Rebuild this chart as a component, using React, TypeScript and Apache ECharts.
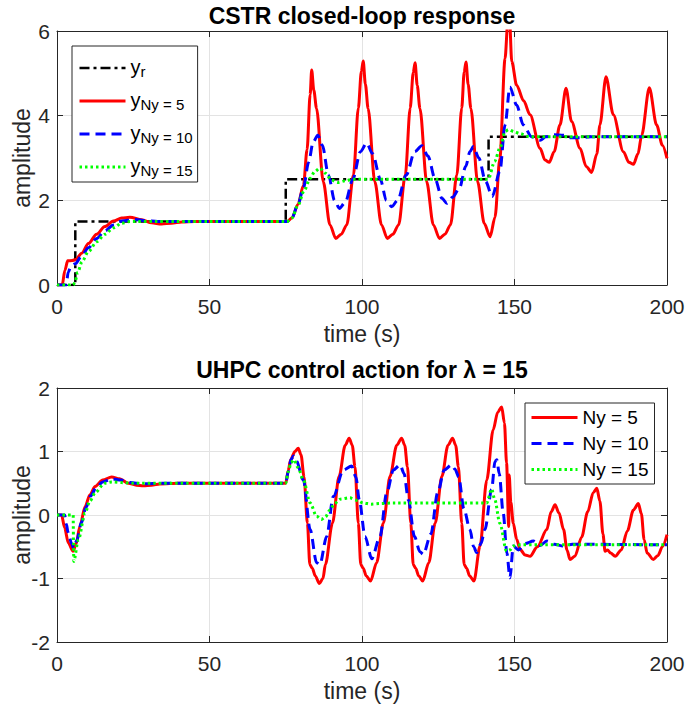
import { useEffect, useRef } from "react";
import * as echarts from "echarts";

const FONT = "'Liberation Sans', Arial, Helvetica, sans-serif";
const AXC = "#262626";

// axis ticks
const xTicks = [0, 50, 100, 150, 200];
const topYTicks = [0, 2, 4, 6];
const botYTicks = [-2, -1, 0, 1, 2];

// ---------- top subplot: CSTR closed-loop response ----------
const yRef: [number, number][] = [
  [0, 0], [6, 0], [6, 1.5], [75, 1.5], [75, 2.5], [141.5, 2.5], [141.5, 3.5], [200, 3.5],
];

const yNy5: [number, number][] = [
  [0, 0], [1.7, 0], [2.6, 0.35], [3.5, 0.57], [5, 0.58], [6.1, 0.6], [8.1, 0.75], [10.3, 0.98],
  [13, 1.2], [15.7, 1.38], [18.5, 1.51], [21.2, 1.58], [23.9, 1.6], [27.8, 1.54], [31, 1.47],
  [34.3, 1.44], [37.5, 1.46], [40.9, 1.49], [45, 1.5], [75.5, 1.5],
  [77, 1.58], [79, 1.9], [80.8, 2.35], [82, 3.2], [83, 4.5], [83.5, 5.08], [84.2, 4.6], [85.1, 4.17],
  [87.3, 2.44], [89.5, 1.42], [91.4, 1.1], [93.2, 1.2], [95, 1.42], [97.2, 2.6], [98.8, 4.18],
  [99.8, 5.05], [100.4, 5.29], [101.1, 4.75], [102, 4.17], [104.2, 2.44], [106.4, 1.42], [108.3, 1.1],
  [110.1, 1.2], [112, 1.42], [114.2, 2.6], [115.8, 4.18], [116.8, 5.02], [117.4, 5.25], [118.1, 4.72],
  [119, 4.17], [121.2, 2.44], [123.4, 1.42], [125.4, 1.1], [127.2, 1.2], [129, 1.42], [131.1, 2.6],
  [132.7, 4.18], [133.5, 5.03], [134.1, 5.27], [134.8, 4.74], [135.7, 4.17], [137.9, 2.44],
  [140.1, 1.45], [142, 1.14], [143.6, 1.6], [145.2, 2.99], [146.9, 5.35], [147.8, 6.2], [148.3, 6.4],
  [149.1, 5.28], [150.7, 4.72], [153, 4.35], [155.1, 4.02], [158.4, 3.23], [160, 2.95], [161.4, 2.9],
  [163, 3.15], [164.9, 3.78], [166.9, 4.65], [168.7, 3.86], [171.5, 3.23], [173.5, 2.8], [175.3, 2.66],
  [177, 3.1], [178, 3.78], [180, 4.92], [182.4, 4.02], [185.7, 3.15], [187.5, 2.9], [189, 2.85],
  [190.5, 3.1], [191.7, 3.54], [194.2, 4.66], [196.6, 3.78], [198.5, 3.3], [200, 2.99],
];

const yNy10: [number, number][] = [
  [0, 0], [3, 0], [3.7, 0.31], [4.6, 0.45], [6, 0.5], [8, 0.68], [10.3, 0.88], [13, 1.1], [15.7, 1.28],
  [18.5, 1.42], [21.2, 1.51], [25.6, 1.55], [29, 1.52], [33, 1.5], [75.5, 1.5],
  [77, 1.58], [79, 1.9], [80.8, 2.3], [82.5, 2.9], [84, 3.38], [85.5, 3.54], [87, 3.3], [89, 2.6],
  [91, 2.0], [92.6, 1.81], [94.5, 1.95], [97, 2.5], [99.5, 3.15], [101.5, 3.35], [103.5, 3.1],
  [106, 2.5], [108, 2.0], [109.7, 1.85], [111.7, 2.0], [114.5, 2.6], [117.3, 3.15], [119.6, 3.29],
  [121.6, 3.05], [124, 2.5], [126.2, 2.05], [127.8, 1.93], [129.8, 2.08], [132, 2.3], [134, 2.8],
  [135.4, 3.15], [136.5, 3.27], [138.3, 3.0], [140.5, 2.45], [142.7, 2.09], [145.2, 2.68],
  [146.9, 3.78], [148.5, 4.68], [150.7, 4.25], [152.9, 3.78], [155.6, 3.5], [158.4, 3.42],
  [160.3, 3.5], [163, 3.55], [166, 3.54], [168.5, 3.48], [171.5, 3.48], [175, 3.5], [200, 3.5],
];

const yNy15: [number, number][] = [
  [0, 0], [5.3, 0], [5.8, 0.05], [6.8, 0.3], [8.2, 0.55], [10.3, 0.79], [13, 1.02], [15.7, 1.2],
  [18.5, 1.35], [21.2, 1.46], [24, 1.5], [75.5, 1.5],
  [77, 1.58], [79, 1.88], [81, 2.22], [83, 2.52], [84.5, 2.68], [86.2, 2.76], [88, 2.64], [90, 2.48],
  [92, 2.42], [94.5, 2.46], [97, 2.5], [141.4, 2.5], [143.5, 2.92], [145.2, 3.23], [146.9, 3.62],
  [148, 3.67], [150, 3.62], [151.6, 3.58], [155.1, 3.5], [200, 3.5],
];

// ---------- bottom subplot: UHPC control action ----------
const uNy5: [number, number][] = [
  [0, 0], [1.5, 0], [2.5, -0.2], [3.7, -0.44], [5.3, -0.57], [6.3, -0.45], [7.5, -0.18], [9.2, 0.13],
  [10.8, 0.32], [12.5, 0.45], [15, 0.55], [17.9, 0.6], [20.5, 0.57], [23.4, 0.5], [26, 0.47],
  [28.3, 0.46], [31, 0.47], [33.7, 0.49], [40, 0.5], [75, 0.5],
  [75.8, 0.7], [76.6, 0.87], [78, 1.0], [79.1, 1.05], [80, 0.95], [81, 0.6], [82.1, -0.13],
  [82.9, -0.78], [83.7, -0.84], [84.7, -0.96], [86, -1.08], [87.2, -1.0], [88, -0.78], [90.3, -0.13],
  [92.5, 0.61], [94.5, 1.1], [95.8, 1.21], [96.8, 1.1], [97.7, 0.76], [98.8, -0.13], [99.6, -0.78],
  [100.4, -0.84], [101.4, -0.96], [102.8, -1.04], [104.8, -0.75], [107, -0.13], [109.2, 0.61],
  [111.4, 1.1], [113, 1.21], [114, 1.1], [114.9, 0.76], [116, -0.13], [116.8, -0.78], [117.6, -0.84],
  [118.6, -0.96], [119.9, -1.04], [121.9, -0.75], [124, -0.13], [126.2, 0.61], [128.2, 1.1],
  [129.7, 1.21], [130.7, 1.1], [131.6, 0.76], [132.7, -0.13], [133.5, -0.78], [134.3, -0.84],
  [135.3, -0.96], [136.7, -1.04], [138.7, -0.49], [140.9, 0.55], [143, 1.34], [144.5, 1.62],
  [145.8, 1.7], [146.7, 1.45], [147.4, 0.82], [148.1, -0.18], [148.25, 0.63], [148.8, 0.2],
  [149.6, -0.13], [150.7, -0.38], [151.8, -0.54], [153.5, -0.63], [155.1, -0.65], [157.5, -0.5],
  [160.6, -0.23], [162, 0.05], [163.3, 0.16], [164.6, 0.03], [166.1, -0.23], [167.2, -0.55],
  [168.2, -0.7], [169.8, -0.65], [172, -0.35], [174, 0.05], [175.8, 0.35], [177, 0.42], [178, 0.22],
  [179, -0.3], [179.7, -0.57], [180.5, -0.55], [181.5, -0.6], [183, -0.65], [185, -0.55], [187, -0.25],
  [189, 0.08], [190.6, 0.18], [191.6, 0.02], [192.5, -0.39], [193.5, -0.6], [195.5, -0.7],
  [197, -0.64], [198.5, -0.5], [200, -0.31],
];

const uNy10: [number, number][] = [
  [0, 0], [2.5, 0], [3.1, -0.15], [3.6, -0.27], [4.8, -0.45], [5.4, -0.52], [6.5, -0.4], [8, -0.12],
  [9.5, 0.12], [11, 0.3], [13, 0.44], [15, 0.52], [18, 0.57], [21, 0.55], [24, 0.51], [28, 0.49],
  [35, 0.5], [75, 0.5],
  [75.8, 0.68], [76.8, 0.88], [77.6, 0.93], [78.5, 0.85], [80.8, 0.55], [83, -0.23], [85.1, -0.75],
  [86.2, -0.78], [88.4, -0.34], [90.6, 0.29], [93.9, 0.71], [96.6, 0.77], [98, 0.6], [99.1, 0.24],
  [101, -0.34], [103.2, -0.69], [105.9, -0.34], [108.1, 0.35], [110.3, 0.71], [112.5, 0.79],
  [113.8, 0.65], [115.2, 0.24], [117.2, -0.34], [119, -0.58], [120.1, -0.62], [122.6, -0.3],
  [124.8, 0.35], [127, 0.71], [129.4, 0.79], [130.5, 0.72], [131.7, 0.6], [133.4, 0.1],
  [135.4, -0.23], [136.6, -0.5], [137.6, -0.59], [139, -0.45], [140.3, -0.23], [142.5, 0.4],
  [143.6, 0.84], [144.2, 0.87], [145, 0.65], [146.3, 0.03], [147.5, -0.6], [148.5, -0.99],
  [149.6, -0.49], [151.3, -0.55], [153.5, -0.45], [156.2, -0.41], [158.4, -0.48], [160.6, -0.41],
  [163, -0.46], [166, -0.49], [169, -0.46], [200, -0.47],
];

const uNy15: [number, number][] = [
  [0, 0], [5.3, 0], [5.4, -0.4], [5.5, -0.73], [7, -0.39], [9.2, 0.03], [10.8, 0.22], [12.5, 0.35],
  [15.6, 0.5], [18, 0.52], [21.2, 0.51], [25, 0.5], [75, 0.5],
  [75.8, 0.68], [76.8, 0.83], [77.7, 0.87], [79, 0.75], [80.8, 0.55], [83, 0.19], [85.1, -0.02],
  [86.7, -0.07], [88, -0.03], [89.5, 0.08], [91, 0.18], [92.8, 0.25], [96, 0.27], [98.5, 0.23],
  [100.4, 0.19], [103, 0.17], [106, 0.18], [110, 0.19], [140.9, 0.19], [142.5, 0.41], [143.5, 0.25],
  [145.2, -0.13], [147.4, -0.57], [148.5, -0.55], [149.6, -0.49], [152, -0.47], [200, -0.47],
];

const topNames = ["y_r", "y_Ny = 5", "y_Ny = 10", "y_Ny = 15"];
const botNames = ["Ny = 5", "Ny = 10", "Ny = 15"];

function makeAxes(kind: "x" | "y", ticks: number[], gridIndex: number, name: string) {
  const min = ticks[0];
  const max = ticks[ticks.length - 1];
  const interval = ticks[1] - ticks[0];
  const line = { show: true, onZero: false, lineStyle: { color: AXC, width: 1 } };
  const tick = { show: true, inside: true, length: 6, lineStyle: { color: AXC, width: 1 } };
  const main: any = {
    type: "value", gridIndex, min, max, interval,
    position: kind === "x" ? "bottom" : "left",
    axisLine: line, axisTick: tick,
    axisLabel: {
      fontSize: 21, color: AXC, fontFamily: FONT,
      margin: kind === "x" ? 11 : 7,
    },
    splitLine: { show: true, lineStyle: { color: "#e3e3e3", width: 1 } },
    name, nameLocation: "middle", nameMoveOverlap: false,
    nameGap: kind === "x" ? 37 : 24,
    nameTextStyle: { fontSize: 23, color: AXC, fontFamily: FONT },
  };
  const mirror: any = {
    type: "value", gridIndex, min, max, interval,
    position: kind === "x" ? "top" : "right",
    axisLine: line, axisTick: tick,
    axisLabel: { show: false }, splitLine: { show: false },
  };
  return [main, mirror];
}

function ser(name: string, data: [number, number][], color: string, type: any, width: number, idx: number, smooth: number | boolean) {
  return {
    name, type: "line", data, xAxisIndex: idx, yAxisIndex: idx,
    symbol: "none", showSymbol: false, smooth, smoothMonotone: "x",
    itemStyle: { color },
    lineStyle: { color, width, type, cap: "butt" },
    clip: true, z: 3,
  };
}

export default function App() {
  const ref = useRef<HTMLDivElement>(null);
  useEffect(() => {
    if (!ref.current) return;
    const chart = echarts.init(ref.current, null, { renderer: "svg" });
    const RED = "#ff0000", BLUE = "#0000ff", GREEN = "#00ff00", BLACK = "#000000";
    const dashed = [10, 6];
    const dotted = [2.5, 3];
    const dashdot = [10, 4, 3, 4];
    const option: any = {
      animation: false,
      backgroundColor: "#ffffff",
      grid: [
        { left: 57, top: 31, width: 610, height: 254, containLabel: false, outerBoundsMode: "none" },
        { left: 57, top: 388, width: 610, height: 254, containLabel: false, outerBoundsMode: "none" },
      ],
      xAxis: [
        ...makeAxes("x", xTicks, 0, "time (s)"),
        ...makeAxes("x", xTicks, 1, "time (s)"),
      ],
      yAxis: [
        ...makeAxes("y", topYTicks, 0, "amplitude"),
        ...makeAxes("y", botYTicks, 1, "amplitude"),
      ],
      legend: [
        {
          data: topNames, orient: "vertical", left: 72, top: 46,
          itemWidth: 46, itemHeight: 14, itemGap: 5, padding: [5, 5, 4, 6],
          borderColor: AXC, borderWidth: 1, borderRadius: 0, backgroundColor: "#ffffff",
          selectedMode: false, itemStyle: { opacity: 0 }, lineStyle: { width: "inherit" },
          formatter: (n: string) => {
            const sub = n.split("_")[1];
            return `{m|y}{s|${sub}}`;
          },
          textStyle: {
            color: "#000",
            rich: {
              m: { fontSize: 20, fontFamily: FONT, color: "#000", lineHeight: 22, verticalAlign: "top" },
              s: { fontSize: 15, fontFamily: FONT, color: "#000", lineHeight: 15, padding: [13, 0, 0, 0], verticalAlign: "bottom" },
            },
          },
        },
        {
          data: botNames, orient: "vertical", left: 525, top: 403,
          itemWidth: 46, itemHeight: 14, itemGap: 7, padding: [5, 6, 5, 5],
          borderColor: AXC, borderWidth: 1, borderRadius: 0, backgroundColor: "#ffffff",
          selectedMode: false, itemStyle: { opacity: 0 }, lineStyle: { width: "inherit" },
          textStyle: { color: "#000", fontSize: 19, fontFamily: FONT },
        },
      ],
      graphic: [
        {
          type: "text", x: 362, y: 16,
          style: {
            text: "CSTR closed-loop response", textAlign: "center", textVerticalAlign: "middle",
            font: `bold 23px ${FONT}`, fill: "#000",
          },
        },
        {
          type: "text", x: 362, y: 370,
          style: {
            text: "UHPC control action for λ = 15", textAlign: "center", textVerticalAlign: "middle",
            font: `bold 23px ${FONT}`, fill: "#000",
          },
        },
      ],
      series: [
        ser("y_r", yRef, BLACK, dashdot, 2.5, 0, false),
        ser("y_Ny = 5", yNy5, RED, "solid", 3, 0, 0.3),
        ser("y_Ny = 10", yNy10, BLUE, dashed, 3, 0, 0.3),
        ser("y_Ny = 15", yNy15, GREEN, dotted, 3, 0, 0.3),
        ser("Ny = 5", uNy5, RED, "solid", 3, 2, 0.3),
        ser("Ny = 10", uNy10, BLUE, dashed, 3, 2, 0.3),
        ser("Ny = 15", uNy15, GREEN, dotted, 3, 2, 0.3),
      ],
    };
    chart.setOption(option);
    return () => chart.dispose();
  }, []);
  return <div ref={ref} style={{ position: "absolute", left: 0, top: 0, width: 685, height: 709 }} />;
}
